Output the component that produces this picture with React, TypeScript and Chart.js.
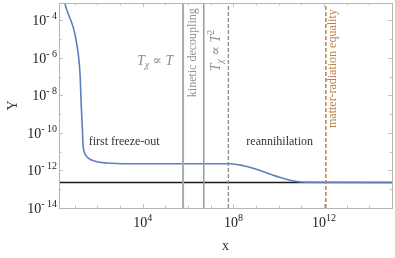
import React, { useEffect, useRef } from 'react';
import { Chart, registerables } from 'chart.js';

Chart.register(...registerables);

// ---- data ----
const curveX = [3.27, 3.62, 4.9, 6.7, 9.1, 12.3, 15.1, 17.3, 18.5, 20.1, 21.6, 22.7, 24.6, 27.9, 39, 78, 263, 2.75e3, 7.4e7, 2.8e8, 9.5e8, 3.2e9, 1.2e10, 4.6e10, 1.5e11, 1e15];
const curveY = [2.4e-3, 8.9e-4, 2.6e-4, 9.8e-5, 3.2e-5, 5.2e-6, 8.1e-7, 8.9e-8, 8.5e-9, 9.3e-10, 1.5e-10, 3.0e-11, 1.25e-11, 7.6e-12, 4.6e-12, 3.1e-12, 2.5e-12, 2.3e-12, 2.3e-12, 1.8e-12, 1.2e-12, 7.2e-13, 4.2e-13, 2.75e-13, 2.34e-13, 2.3e-13];

const floorY = 2.3e-13;
const kineticDecouplingX = [6e5, 4.9e6];
const tchiT2X = 6e7;
const equalityX = 1.2e12;

const xRange = [2, 1e15];
const yRange = [1e-14, 8.5e-4];

const xTickValues = [1e4, 1e8, 1e12];
const xTickExponents = ['4', '8', '12'];
const yTickValues = [1e-14, 1e-12, 1e-10, 1e-8, 1e-6, 1e-4];
const yTickExponents = ['-14', '-12', '-10', '-8', '-6', '-4'];
const tickBase = '10';

const xMinorDecades = [1, 2, 3, 4, 5, 6, 7, 8, 9, 10, 11, 12, 13, 14, 15];
const yMinorDecades = [-14, -13, -12, -11, -10, -9, -8, -7, -6, -5, -4];

// annotation anchors (data coordinates)
const annFreeze = { text: 'first freeze-out', x: 1.5e3, y: 3.2e-11 };
const annReann = { text: 'reannihilation', x: 1.1e10, y: 3.2e-11 };
const annTchiT = { x: 3.5e4, y: 8.1e-7 };
const annKinetic = { text: 'kinetic decoupling', x: 1.7e6, y: 1.9e-6 };
const annTchiT2 = { x: 1.6e7, y: 2.5e-6 };
const annEquality = { text: 'matter-radiation equality', x: 2.45e12, y: 2.7e-7 };

const SERIF = '"Liberation Serif", "DejaVu Serif", serif';

type Seg = { t: string; size: number; italic?: boolean; dy?: number };

function measureRich(ctx: CanvasRenderingContext2D, segs: Seg[]) {
  const widths: number[] = [];
  let total = 0;
  for (const s of segs) {
    ctx.font = `${s.italic ? 'italic ' : ''}${s.size}px ${SERIF}`;
    const w = ctx.measureText(s.t).width;
    widths.push(w);
    total += w;
  }
  return { widths, total };
}

function drawRich(ctx: CanvasRenderingContext2D, segs: Seg[], px: number, cy: number, color: string, align: 'center' | 'right' = 'center') {
  const { widths, total } = measureRich(ctx, segs);
  let x = align === 'center' ? px - total / 2 : px - total;
  ctx.fillStyle = color;
  ctx.textBaseline = 'alphabetic';
  ctx.textAlign = 'left';
  segs.forEach((s, i) => {
    ctx.font = `${s.italic ? 'italic ' : ''}${s.size}px ${SERIF}`;
    ctx.fillText(s.t, x, cy + (s.dy || 0));
    x += widths[i];
  });
}

const powerLabel = (exp: string): Seg[] => [
  { t: tickBase, size: 14 },
  { t: exp.startsWith('-') ? '- ' + exp.slice(1) : exp, size: 10, dy: -6 },
];

const decor = {
  id: 'decor',
  afterDatasetsDraw(chart: any) {
    const { ctx, scales } = chart;
    const xs = scales.x;
    const ys = scales.y;
    ctx.save();
    // horizontal text
    ctx.font = `12px ${SERIF}`;
    ctx.fillStyle = '#333';
    ctx.textAlign = 'center';
    ctx.textBaseline = 'middle';
    ctx.fillText(annFreeze.text, xs.getPixelForValue(annFreeze.x), ys.getPixelForValue(annFreeze.y));
    ctx.fillText(annReann.text, xs.getPixelForValue(annReann.x), ys.getPixelForValue(annReann.y));

    // T_chi ∝ T
    const tc = '#8c8c8c';
    drawRich(ctx, [
      { t: 'T', size: 14, italic: true },
      { t: 'χ', size: 10, italic: true, dy: 3 },
      { t: ' ∝ ', size: 14 },
      { t: 'T', size: 14, italic: true },
    ], xs.getPixelForValue(annTchiT.x), ys.getPixelForValue(annTchiT.y) + 5, tc);

    // rotated texts
    const rot = (px: number, py: number, fn: () => void) => {
      ctx.save();
      ctx.translate(px, py);
      ctx.rotate(-Math.PI / 2);
      fn();
      ctx.restore();
    };
    rot(xs.getPixelForValue(annKinetic.x), ys.getPixelForValue(annKinetic.y), () => {
      ctx.font = `12px ${SERIF}`;
      ctx.fillStyle = '#939393';
      ctx.textAlign = 'center';
      ctx.textBaseline = 'middle';
      ctx.fillText(annKinetic.text, 0, 0);
    });
    rot(xs.getPixelForValue(annTchiT2.x), ys.getPixelForValue(annTchiT2.y), () => {
      drawRich(ctx, [
        { t: 'T', size: 14, italic: true },
        { t: 'χ', size: 10, italic: true, dy: 3 },
        { t: ' ∝ ', size: 14 },
        { t: 'T', size: 14, italic: true },
        { t: '2', size: 10, dy: -6 },
      ], 0, 5, tc);
    });
    rot(xs.getPixelForValue(annEquality.x), ys.getPixelForValue(annEquality.y), () => {
      ctx.font = `12px ${SERIF}`;
      ctx.fillStyle = '#b8834a';
      ctx.textAlign = 'center';
      ctx.textBaseline = 'middle';
      ctx.fillText(annEquality.text, 0, 0);
    });
    ctx.restore();
  },
  afterDraw(chart: any) {
    const { ctx, chartArea: a, scales } = chart;
    const xs = scales.x;
    const ys = scales.y;
    ctx.save();
    ctx.strokeStyle = '#c4c4c4';
    ctx.lineWidth = 1;
    ctx.beginPath();
    for (const d of xMinorDecades) {
      const px = Math.round(xs.getPixelForValue(Math.pow(10, d))) + 0.5;
      if (px < a.left || px > a.right) continue;
      const len = d % 4 === 0 ? 4 : 2.5;
      ctx.moveTo(px, a.bottom);
      ctx.lineTo(px, a.bottom - len);
      ctx.moveTo(px, a.top);
      ctx.lineTo(px, a.top + len);
    }
    for (const d of yMinorDecades) {
      const py = Math.round(ys.getPixelForValue(Math.pow(10, d))) + 0.5;
      if (py < a.top || py > a.bottom) continue;
      const len = d % 2 === 0 ? 4 : 2.5;
      ctx.moveTo(a.left, py);
      ctx.lineTo(a.left + len, py);
      ctx.moveTo(a.right, py);
      ctx.lineTo(a.right - len, py);
    }
    ctx.stroke();
    ctx.strokeStyle = '#b5b5b5';
    ctx.strokeRect(Math.round(a.left) + 0.5, Math.round(a.top) + 0.5, Math.round(a.right - a.left), Math.round(a.bottom - a.top));

    // tick labels with superscripts
    xTickValues.forEach((v, i) => {
      const px = xs.getPixelForValue(v);
      drawRich(ctx, powerLabel(xTickExponents[i]), px, a.bottom + 19, '#222', 'center');
    });
    yTickValues.forEach((v, i) => {
      const py = ys.getPixelForValue(v);
      drawRich(ctx, powerLabel(yTickExponents[i]), a.left - 2, py + 5, '#222', 'right');
    });
    ctx.restore();
  },
};

export default function App() {
  const ref = useRef<HTMLCanvasElement | null>(null);
  useEffect(() => {
    document.body.style.margin = '0';
    const canvas = ref.current;
    if (!canvas) return;
    const vline = (xv: number, color: string, width: number, dash: number[]) => ({
      data: [{ x: xv, y: yRange[0] }, { x: xv, y: yRange[1] }],
      borderColor: color,
      borderWidth: width,
      borderDash: dash,
      pointRadius: 0,
      fill: false,
    });
    const chart = new Chart(canvas, {
      type: 'line',
      data: {
        datasets: [
          vline(kineticDecouplingX[0], '#ababab', 2, []),
          vline(kineticDecouplingX[1], '#9a9a9a', 1.5, []),
          vline(tchiT2X, '#8e8e8e', 1.3, [4, 2]),
          vline(equalityX, '#c08a52', 1.6, [4, 2]),
          {
            data: curveX.map((x, i) => ({ x, y: curveY[i] })),
            borderColor: '#5b80bd',
            borderWidth: 1.6,
            pointRadius: 0,
            cubicInterpolationMode: 'monotone',
            fill: false,
          },
          {
            data: [{ x: xRange[0], y: floorY }, { x: xRange[1], y: floorY }],
            borderColor: '#1a1a1a',
            borderWidth: 1.6,
            pointRadius: 0,
            fill: false,
          },
        ] as any,
      },
      options: {
        animation: false,
        responsive: false,
        devicePixelRatio: 1,
        layout: { padding: { top: 3, right: 3, left: 0, bottom: 0 } },
        plugins: { legend: { display: false }, tooltip: { enabled: false } },
        scales: {
          x: {
            type: 'logarithmic',
            min: xRange[0],
            max: xRange[1],
            grid: { display: false, drawTicks: false },
            border: { display: false },
            afterBuildTicks: (s: any) => { s.ticks = xTickValues.map((v) => ({ value: v })); },
            afterFit: (s: any) => { s.height = 50; },
            ticks: { display: false },
            title: { display: true, text: 'x', color: '#333', font: { family: SERIF, size: 14 }, padding: { top: 0, bottom: 3 } },
          },
          y: {
            type: 'logarithmic',
            min: yRange[0],
            max: yRange[1],
            grid: { display: false, drawTicks: false },
            border: { display: false },
            afterBuildTicks: (s: any) => { s.ticks = yTickValues.map((v) => ({ value: v })); },
            afterFit: (s: any) => { s.width = 59; },
            ticks: { display: false },
            title: { display: true, text: 'Y', color: '#333', font: { family: SERIF, size: 14 }, padding: { top: 5, bottom: 0 } },
          },
        },
      } as any,
      plugins: [decor],
    });
    return () => chart.destroy();
  }, []);
  return (
    <div style={{ width: 395, height: 258 }}>
      <canvas ref={ref} width={395} height={258} style={{ display: 'block' }} />
    </div>
  );
}
